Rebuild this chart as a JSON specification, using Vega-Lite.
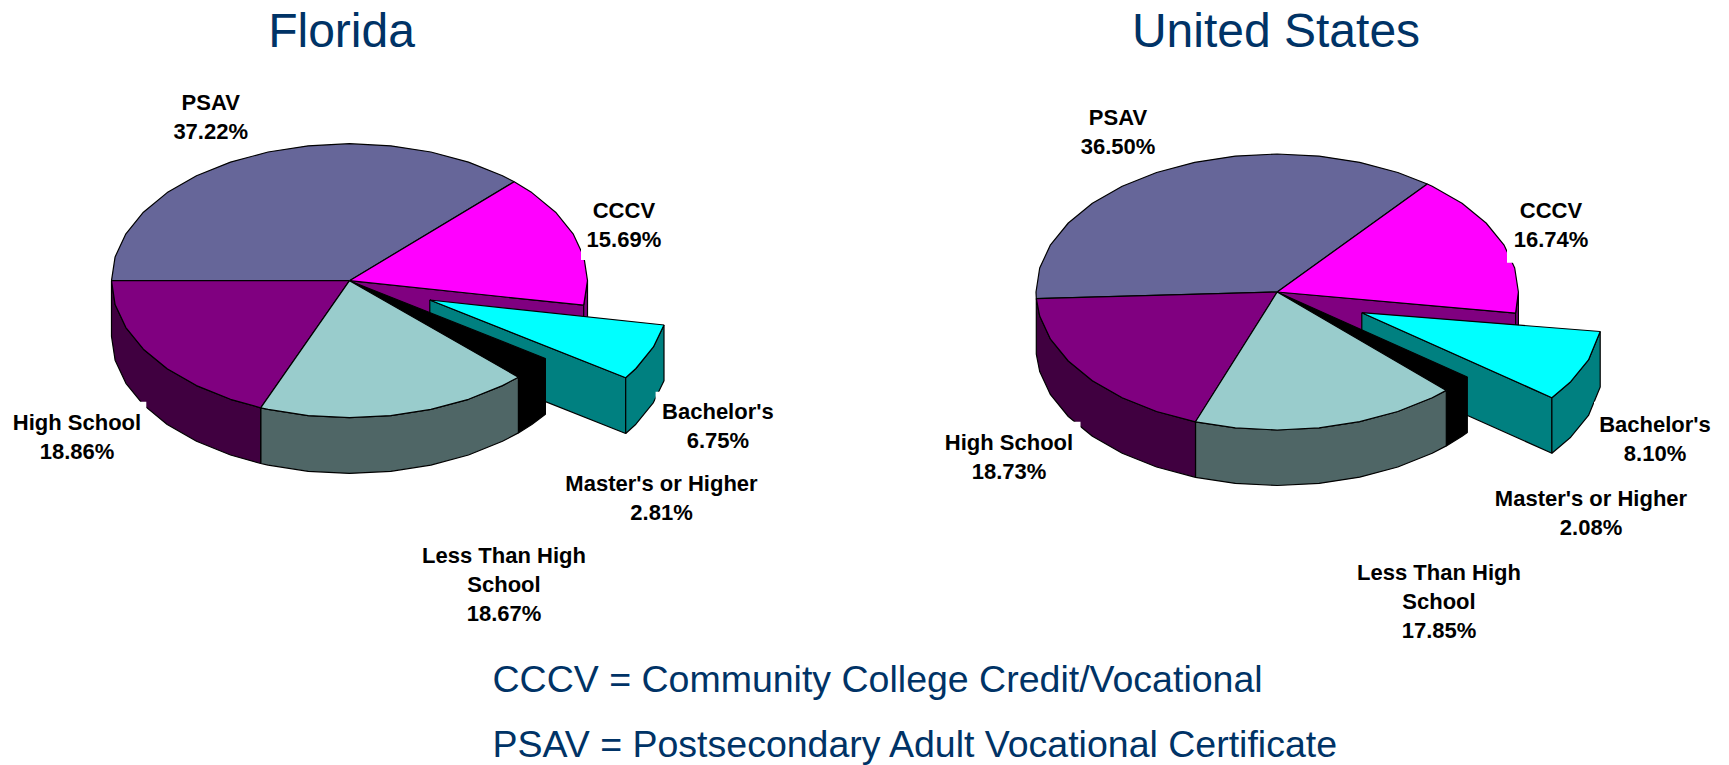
{"$schema":"https://vega.github.io/schema/vega-lite/v6.json","width":1729,"height":765,"padding":0,"autosize":{"type":"fit","contains":"padding"},"background":"white","config":{"view":{"stroke":null}},
"datasets":{
"faces":[
{"chart":"Florida","category":"CCCV","share":15.69,"part":"CCCV inner","x":[349.5,583.7,583.7,349.5,349.5],"y":[280.7,305.2,360.9,336.4,280.7]},
{"chart":"Florida","category":"CCCV","share":15.69,"part":"CCCV side","x":[587.5,583.7,583.7,587.5,587.5],"y":[280.7,305.2,360.9,336.4,280.7]},
{"chart":"Florida","category":"Bachelor's","share":6.75,"part":"Bachelor's wall","x":[429.8,625.7,625.7,429.8,429.8],"y":[300,377.8,433.5,355.7,300]},
{"chart":"Florida","category":"Bachelor's","share":6.75,"part":"Bachelor's side","x":[664,653.4,635.9,625.7,625.7,635.9,653.4,664,664],"y":[325,346.9,368.5,377.8,433.5,424.2,402.6,380.7,325]},
{"chart":"Florida","category":"Bachelor's","share":6.75,"part":"Bachelor's top","x":[429.8,664,653.4,635.9,625.7,429.8],"y":[300,325,346.9,368.5,377.8,300]},
{"chart":"Florida","category":"Master's or Higher","share":2.81,"part":"Master's side","x":[545.4,545.4,531.8,518.4,518.4,531.8,545.4],"y":[358.5,414.2,424.5,432.9,377.2,368.8,358.5]},
{"chart":"Florida","category":"Master's or Higher","share":2.81,"part":"Master's top","x":[349.5,545.4,531.8,518.4,349.5],"y":[280.7,358.5,368.8,377.2,280.7]},
{"chart":"Florida","category":"Less Than High School","share":18.67,"part":"Less side","x":[518.4,502.5,468.5,430.9,390.8,349.5,308.2,268.1,260.7,260.7,268.1,308.2,349.5,390.8,430.9,468.5,502.5,518.4,518.4],"y":[377.2,385.6,399.3,409.4,415.6,417.7,415.6,409.4,407.8,463.5,465.1,471.3,473.4,471.3,465.1,455,441.3,432.9,377.2]},
{"chart":"Florida","category":"High School","share":18.86,"part":"High School side","x":[260.7,230.5,196.5,167.2,143.4,125.9,115.1,111.5,111.5,115.1,125.9,143.4,167.2,196.5,230.5,260.7,260.7],"y":[407.8,399.3,385.6,368.8,349.2,327.6,304.5,280.7,336.4,360.2,383.3,404.9,424.5,441.3,455,463.5,407.8]},
{"chart":"Florida","category":"PSAV","share":37.22,"part":"PSAV top","x":[349.5,111.5,115.1,125.9,143.4,167.2,196.5,230.5,268.1,308.2,349.5,390.8,430.9,468.5,502.5,514.2,349.5],"y":[280.7,280.7,256.9,233.8,212.2,192.6,175.8,162.1,152,145.8,143.7,145.8,152,162.1,175.8,181.8,280.7]},
{"chart":"Florida","category":"CCCV","share":15.69,"part":"CCCV top","x":[349.5,514.2,531.8,555.6,573.1,583.9,587.5,583.7,349.5],"y":[280.7,181.8,192.6,212.2,233.8,256.9,280.7,305.2,280.7]},
{"chart":"Florida","category":"High School","share":18.86,"part":"High School top","x":[349.5,260.7,230.5,196.5,167.2,143.4,125.9,115.1,111.5,349.5],"y":[280.7,407.8,399.3,385.6,368.8,349.2,327.6,304.5,280.7,280.7]},
{"chart":"Florida","category":"Less Than High School","share":18.67,"part":"Less top","x":[349.5,518.4,502.5,468.5,430.9,390.8,349.5,308.2,268.1,260.7,349.5],"y":[280.7,377.2,385.6,399.3,409.4,415.6,417.7,415.6,409.4,407.8,280.7]},
{"chart":"United States","category":"CCCV","share":16.74,"part":"CCCV inner","x":[1277.2,1515.6,1515.6,1277.2,1277.2],"y":[292,313.1,368.6,347.5,292]},
{"chart":"United States","category":"CCCV","share":16.74,"part":"CCCV side","x":[1518.4,1515.6,1515.6,1518.4,1518.4],"y":[292,313.1,368.6,347.5,292]},
{"chart":"United States","category":"Bachelor's","share":8.1,"part":"Bachelor's wall","x":[1361.8,1551.9,1551.9,1361.8,1361.8],"y":[312.7,397.7,453.2,368.2,312.7]},
{"chart":"United States","category":"Bachelor's","share":8.1,"part":"Bachelor's side","x":[1600.2,1588.5,1570.7,1551.9,1551.9,1570.7,1588.5,1600.2,1600.2],"y":[331.5,359.9,381.7,397.7,453.2,437.2,415.4,387,331.5]},
{"chart":"United States","category":"Bachelor's","share":8.1,"part":"Bachelor's top","x":[1361.8,1600.2,1588.5,1570.7,1551.9,1361.8],"y":[312.7,331.5,359.9,381.7,397.7,312.7]},
{"chart":"United States","category":"Master's or Higher","share":2.08,"part":"Master's side","x":[1467.3,1467.3,1462,1446.3,1446.3,1462,1467.3],"y":[377,432.5,436.2,445.9,390.4,380.7,377]},
{"chart":"United States","category":"Master's or Higher","share":2.08,"part":"Master's top","x":[1277.2,1467.3,1462,1446.3,1277.2],"y":[292,377,380.7,390.4,292]},
{"chart":"United States","category":"Less Than High School","share":17.85,"part":"Less side","x":[1446.3,1432.2,1397.8,1359.7,1319.1,1277.2,1235.3,1195.5,1195.5,1235.3,1277.2,1319.1,1359.7,1397.8,1432.2,1446.3,1446.3],"y":[390.4,397.7,411.5,421.7,427.9,430,427.9,421.8,477.3,483.4,485.5,483.4,477.2,467,453.2,445.9,390.4]},
{"chart":"United States","category":"High School","share":18.73,"part":"High School side","x":[1195.5,1156.6,1122.2,1092.4,1068.3,1050.5,1039.7,1036.3,1036.3,1039.7,1050.5,1068.3,1092.4,1122.2,1156.6,1195.5,1195.5],"y":[421.8,411.5,397.7,380.7,361,339.2,316,298.7,354.2,371.5,394.7,416.5,436.2,453.2,467,477.3,421.8]},
{"chart":"United States","category":"PSAV","share":36.5,"part":"PSAV top","x":[1277.2,1036.3,1036,1039.7,1050.5,1068.3,1092.4,1122.2,1156.6,1194.7,1235.3,1277.2,1319.1,1359.7,1397.8,1427.3,1277.2],"y":[292,298.7,292,268,244.8,223,203.3,186.3,172.5,162.3,156.1,154,156.1,162.3,172.5,184,292]},
{"chart":"United States","category":"CCCV","share":16.74,"part":"CCCV top","x":[1277.2,1427.3,1432.2,1462,1486.1,1503.9,1514.7,1518.4,1515.6,1277.2],"y":[292,184,186.3,203.3,223,244.8,268,292,313.1,292]},
{"chart":"United States","category":"High School","share":18.73,"part":"High School top","x":[1277.2,1195.5,1156.6,1122.2,1092.4,1068.3,1050.5,1039.7,1036.3,1277.2],"y":[292,421.8,411.5,397.7,380.7,361,339.2,316,298.7,292]},
{"chart":"United States","category":"Less Than High School","share":17.85,"part":"Less top","x":[1277.2,1446.3,1432.2,1397.8,1359.7,1319.1,1277.2,1235.3,1195.5,1277.2],"y":[292,390.4,397.7,411.5,421.7,427.9,430,427.9,421.8,292]}
],
"boxes":[
{"label":"Florida CCCV","x":581,"x2":668,"y":195,"y2":260},
{"label":"Florida Bachelor's","x":655.6,"x2":790,"y":391.7,"y2":455},
{"label":"Florida High School","x":8,"x2":146.3,"y":401.7,"y2":465},
{"label":"United States CCCV","x":1507,"x2":1600,"y":195,"y2":262.7},
{"label":"United States Bachelor's","x":1594,"x2":1720,"y":401.7,"y2":470},
{"label":"United States High School","x":940,"x2":1080.5,"y":421.7,"y2":485}
],
"labels":[
{"text":"PSAV\n37.22%","x":210.7,"y":110},
{"text":"CCCV\n15.69%","x":623.9,"y":217.7},
{"text":"Bachelor's\n6.75%","x":717.9,"y":419},
{"text":"Master's or Higher\n2.81%","x":661.5,"y":491},
{"text":"Less Than High\nSchool\n18.67%","x":504,"y":562.7},
{"text":"High School\n18.86%","x":77,"y":430},
{"text":"PSAV\n36.50%","x":1118,"y":124.5},
{"text":"CCCV\n16.74%","x":1551,"y":217.7},
{"text":"Bachelor's\n8.10%","x":1655,"y":432},
{"text":"Master's or Higher\n2.08%","x":1591,"y":506},
{"text":"Less Than High\nSchool\n17.85%","x":1439,"y":580},
{"text":"High School\n18.73%","x":1009,"y":450}
],
"titles":[
{"text":"Florida","x":341.5,"y":47},
{"text":"United States","x":1276,"y":47}
],
"notes":[
{"text":"CCCV = Community College Credit/Vocational","x":492.5,"y":692},
{"text":"PSAV = Postsecondary Adult Vocational Certificate","x":492.5,"y":757}
]
},
"layer":[
{"data":{"name":"faces"},"transform":[{"flatten":["x","y"]}],
"mark":{"type":"line","strokeWidth":1.2,"stroke":"black","strokeJoin":"bevel","clip":false},
"encoding":{
"x":{"field":"x","type":"quantitative","scale":{"domain":[0,1729],"nice":false,"zero":false},"axis":null},
"y":{"field":"y","type":"quantitative","scale":{"domain":[765,0],"nice":false,"zero":false},"axis":null},
"fill":{"field":"part","type":"nominal","legend":null,"sort":null,"scale":{"domain":["PSAV top","CCCV top","CCCV side","CCCV inner","Bachelor's top","Bachelor's side","Bachelor's wall","Master's top","Master's side","Less top","Less side","High School top","High School side"],"range":["#666699","#FF00FF","#800080","#800080","#00FFFF","#008080","#008080","#000000","#000000","#99CCCC","#4F6666","#800080","#400040"]}},
"detail":[{"field":"chart"},{"field":"part"}],
"order":{"value":null}
}},
{"data":{"name":"boxes"},"mark":{"type":"rect","fill":"white","stroke":null},
"encoding":{"x":{"field":"x","type":"quantitative"},"x2":{"field":"x2"},"y":{"field":"y","type":"quantitative"},"y2":{"field":"y2"}}},
{"data":{"name":"labels"},"mark":{"type":"text","font":"Liberation Sans","fontWeight":"bold","fontSize":22,"align":"center","baseline":"alphabetic","lineBreak":"\n","lineHeight":29,"color":"black"},
"encoding":{"x":{"field":"x","type":"quantitative"},"y":{"field":"y","type":"quantitative"},"text":{"field":"text"}}},
{"data":{"name":"titles"},"mark":{"type":"text","font":"Liberation Sans","fontSize":48,"align":"center","baseline":"alphabetic","color":"#003366"},
"encoding":{"x":{"field":"x","type":"quantitative"},"y":{"field":"y","type":"quantitative"},"text":{"field":"text"}}},
{"data":{"name":"notes"},"mark":{"type":"text","font":"Liberation Sans","fontSize":37.5,"align":"left","baseline":"alphabetic","color":"#003366"},
"encoding":{"x":{"field":"x","type":"quantitative"},"y":{"field":"y","type":"quantitative"},"text":{"field":"text"}}}
]}
